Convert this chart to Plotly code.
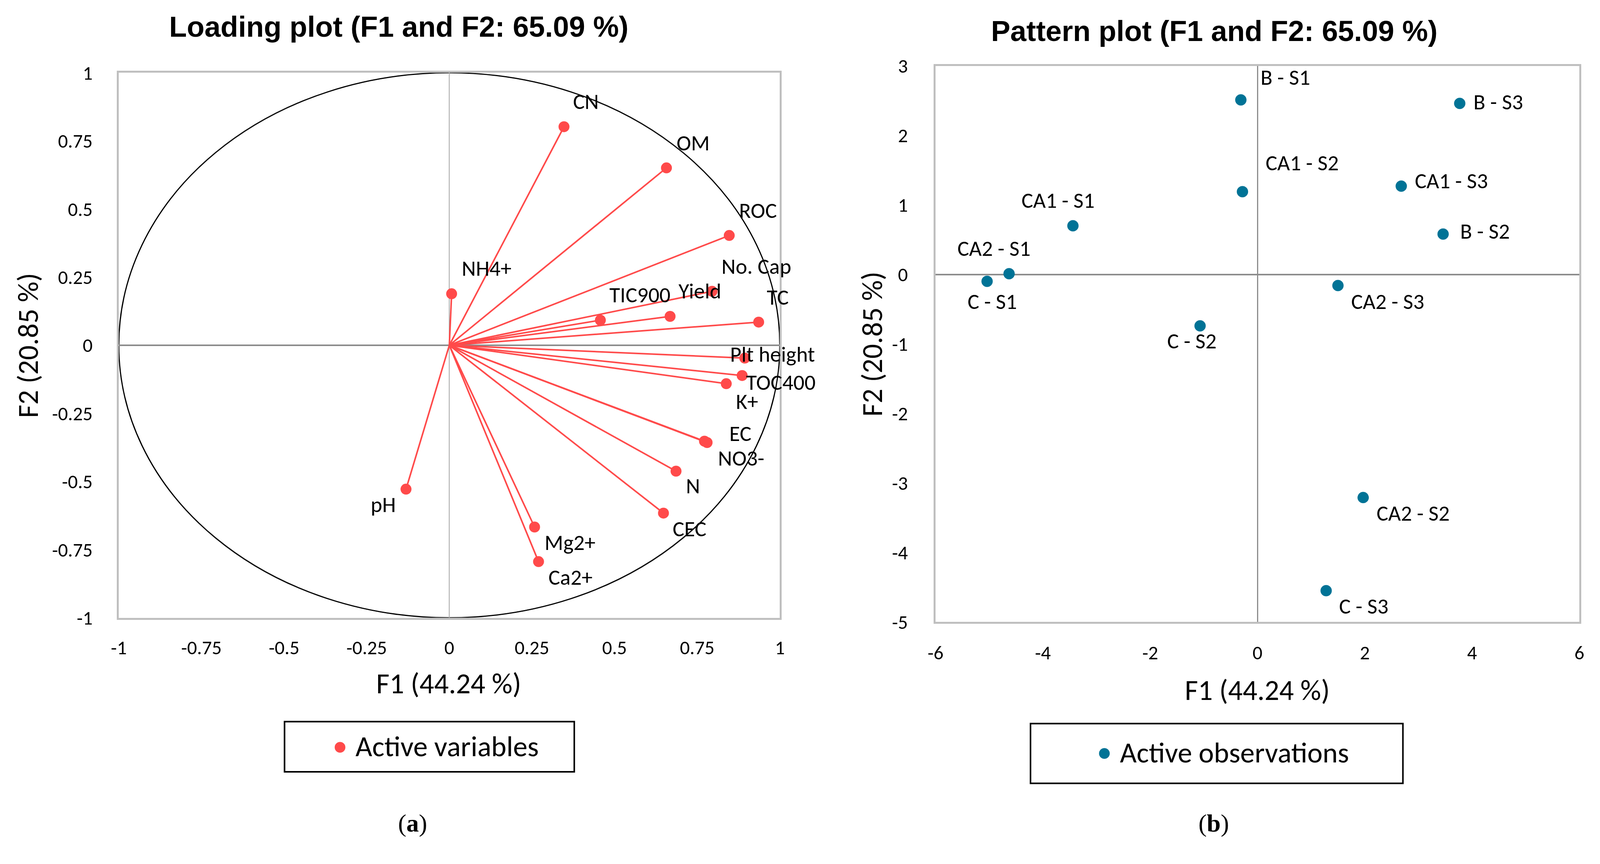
import plotly.graph_objects as go

# ---------------- data ----------------
var_names = ["CN", "OM", "ROC", "NH4+", "No. Cap", "TIC900", "Yield", "TC",
             "Plt height", "TOC400", "K+", "EC", "NO3-", "N", "CEC",
             "Mg2+", "Ca2+", "pH"]
var_f1 = [0.347, 0.657, 0.847, 0.007, 0.795, 0.457, 0.668, 0.936,
          0.894, 0.886, 0.838, 0.772, 0.780, 0.686, 0.648,
          0.258, 0.270, -0.131]
var_f2 = [0.802, 0.651, 0.403, 0.189, 0.198, 0.092, 0.106, 0.085,
          -0.047, -0.111, -0.141, -0.352, -0.357, -0.462, -0.616,
          -0.667, -0.794, -0.528]

obs_names = ["B - S1", "B - S3", "CA1 - S2", "CA1 - S3", "CA1 - S1", "B - S2",
             "CA2 - S1", "C - S1", "CA2 - S3", "C - S2", "CA2 - S2", "C - S3"]
obs_f1 = [-0.31, 3.77, -0.28, 2.68, -3.44, 3.46, -4.63, -5.04, 1.50, -1.07, 1.97, 1.28]
obs_f2 = [2.51, 2.46, 1.19, 1.27, 0.70, 0.58, 0.01, -0.10, -0.16, -0.74, -3.21, -4.55]

load_ticks = [-1, -0.75, -0.5, -0.25, 0, 0.25, 0.5, 0.75, 1]
load_ticktext = ["-1", "-0.75", "-0.5", "-0.25", "0", "0.25", "0.5", "0.75", "1"]
obs_xticks = [-6, -4, -2, 0, 2, 4, 6]
obs_xticktext = ["-6", "-4", "-2", "0", "2", "4", "6"]
obs_yticks = [-5, -4, -3, -2, -1, 0, 1, 2, 3]
obs_yticktext = ["-5", "-4", "-3", "-2", "-1", "0", "1", "2", "3"]

title_a = "Loading plot (F1 and F2: 65.09 %)"
title_b = "Pattern plot (F1 and F2: 65.09 %)"
x_title = "F1 (44.24 %)"
y_title = "F2 (20.85 %)"
legend_a = "Active variables"
legend_b = "Active observations"

# ---------------- label placement (style) ----------------
# (xanchor, dx px, dy px screen-down of text centre)
var_label_pos = {
    "CN": ("left", 21, -64), "OM": ("left", 24, -64), "ROC": ("left", 23, -64),
    "NH4+": ("left", 24, -65), "No. Cap": ("left", 22, -64), "TIC900": ("left", 21, -65),
    "Yield": ("left", 20, -65), "TC": ("left", 19, -64), "Plt height": ("left", -40, -10),
    "TOC400": ("left", 8, 18), "K+": ("left", 23, 46), "EC": ("left", 62, -20),
    "NO3-": ("left", 26, 40), "N": ("left", 23, 38), "CEC": ("left", 22, 40),
    "Mg2+": ("left", 23, 40), "Ca2+": ("left", 23, 40), "pH": ("right", -24, 40),
}
obs_label_pos = {
    "B - S1": ("left", 48, -58), "B - S3": ("left", 33, -4), "CA1 - S2": ("left", 57, -74),
    "CA1 - S3": ("left", 33, -14), "CA1 - S1": ("center", -38, -65), "B - S2": ("left", 42, -7),
    "CA2 - S1": ("center", -39, -65), "C - S1": ("center", 13, 52), "CA2 - S3": ("left", 32, 41),
    "C - S2": ("center", -21, 39), "CA2 - S2": ("left", 32, 40), "C - S3": ("left", 31, 40),
}

W, H = 4170, 2212
# small calibration of the photographed page (offset / scale)
OX, SX = 15.0, 0.9944
OY, SY = 33.7, 0.9906
RED = "#FF4A4A"
TEAL = "#007396"
CAL = "Carlito, Lato, sans-serif"
FRAME = "#BFBFBF"
LBL = 56

def px(x):
    return ((x - OX) / SX) / W

def py(y):
    return 1 - ((y - OY) / SY) / H

fig = go.Figure()

# loading vectors
lx, ly = [], []
for a, b in zip(var_f1, var_f2):
    lx += [0, a, None]
    ly += [0, b, None]
fig.add_trace(go.Scatter(x=lx, y=ly, mode="lines", line=dict(color=RED, width=4),
                         showlegend=False, hoverinfo="skip", xaxis="x", yaxis="y"))
fig.add_trace(go.Scatter(x=var_f1, y=var_f2, mode="markers", text=var_names,
                         marker=dict(color=RED, size=28), name=legend_a,
                         showlegend=False, xaxis="x", yaxis="y"))
fig.add_trace(go.Scatter(x=obs_f1, y=obs_f2, mode="markers", text=obs_names,
                         marker=dict(color=TEAL, size=29), name=legend_b,
                         showlegend=False, xaxis="x2", yaxis="y2"))

annotations = []
for n, a, b in zip(var_names, var_f1, var_f2):
    xa, dx, dy = var_label_pos[n]
    annotations.append(dict(x=a, y=b, xref="x", yref="y", text=n, showarrow=False,
                            xanchor=xa, yanchor="middle", xshift=dx, yshift=-dy,
                            font=dict(family=CAL, size=LBL, color="black")))
for n, a, b in zip(obs_names, obs_f1, obs_f2):
    xa, dx, dy = obs_label_pos[n]
    annotations.append(dict(x=a, y=b, xref="x2", yref="y2", text=n, showarrow=False,
                            xanchor=xa, yanchor="middle", xshift=dx, yshift=-dy,
                            font=dict(family=CAL, size=LBL, color="black")))

def paper_text(text, x, y, size, family, angle=0, xanchor="center"):
    return dict(x=px(x), y=py(y), xref="paper", yref="paper", text=text, showarrow=False,
                xanchor=xanchor, yanchor="middle", textangle=angle,
                font=dict(family=family, size=size, color="black"))

annotations += [
    paper_text("<b>" + title_a + "</b>", 1037, 72, 74, "Liberation Sans, Arial, sans-serif"),
    paper_text("<b>" + title_b + "</b>", 3167, 83, 74, "Liberation Sans, Arial, sans-serif"),
    paper_text(x_title, 1167, 1786, 74, CAL),
    paper_text(x_title, 3279, 1803, 74, CAL),
    paper_text(y_title, 68, 903, 74, CAL, -90),
    paper_text(y_title, 2274, 900, 74, CAL, -90),
    paper_text("(<b>a</b>)", 1073, 2150, 64, "Liberation Serif, serif"),
    paper_text("(<b>b</b>)", 3166, 2150, 64, "Liberation Serif, serif"),
    paper_text(legend_a, 921, 1950, 74, CAL, xanchor="left"),
    paper_text(legend_b, 2919, 1966, 74, CAL, xanchor="left"),
]

def dot(cx, cy, r, color):
    return dict(type="circle", xref="paper", yref="paper",
                x0=px(cx - r), x1=px(cx + r), y0=py(cy + r), y1=py(cy - r),
                fillcolor=color, line=dict(width=0))

shapes = [
    dict(type="circle", xref="x", yref="y", x0=-1, x1=1, y0=-1, y1=1,
         line=dict(color="black", width=3), layer="below"),
    dict(type="rect", xref="paper", yref="paper", x0=px(738), x1=px(1495),
         y0=py(2016), y1=py(1885), line=dict(color="black", width=4)),
    dict(type="rect", xref="paper", yref="paper", x0=px(2687), x1=px(3660),
         y0=py(2046), y1=py(1890), line=dict(color="black", width=4)),
    dot(883, 1952, 14, RED),
    dot(2880, 1968, 14, TEAL),
]

axis_common = dict(showgrid=False, showline=True, mirror=True, linecolor=FRAME,
                   linewidth=5, ticks="", zeroline=True,
                   tickfont=dict(family=CAL, size=50, color="black"))

fig.update_layout(
    autosize=True,
    margin=dict(l=0, r=0, t=0, b=0, pad=0),
    paper_bgcolor="white", plot_bgcolor="white",
    showlegend=False,
    xaxis=dict(domain=[px(305), px(2032)], range=[-1, 1], tickvals=load_ticks,
               ticktext=load_ticktext, anchor="y", zerolinecolor="#A6A6A6",
               zerolinewidth=2, ticklabelstandoff=28, **axis_common),
    yaxis=dict(domain=[py(1614), py(192)], range=[-1, 1], tickvals=load_ticks,
               ticktext=load_ticktext, anchor="x", zerolinecolor="#8C8C8C",
               zerolinewidth=4, ticklabelstandoff=52, **axis_common),
    xaxis2=dict(domain=[px(2439), px(4121)], range=[-6, 6], tickvals=obs_xticks,
                ticktext=obs_xticktext, anchor="y2", zerolinecolor="#8C8C8C",
                zerolinewidth=3, ticklabelstandoff=31, **axis_common),
    yaxis2=dict(domain=[py(1625), py(174)], range=[-5, 3], tickvals=obs_yticks,
                ticktext=obs_yticktext, anchor="x2", zerolinecolor="#8C8C8C",
                zerolinewidth=4, ticklabelstandoff=56, **axis_common),
    annotations=annotations,
    shapes=shapes,
)

post = (
    "document.documentElement.style.margin='0';"
    "document.documentElement.style.overflow='hidden';"
    "document.body.style.margin='0';"
    "document.body.style.overflow='hidden';"
    "var gd=document.getElementById('{plot_id}');"
    "gd.style.width='100vw';gd.style.height='100vh';"
    "Plotly.Plots.resize(gd);"
)

fig.write_html("out.html", default_width="100vw", default_height="100vh",
               config={"displayModeBar": False, "responsive": True},
               post_script=post)
